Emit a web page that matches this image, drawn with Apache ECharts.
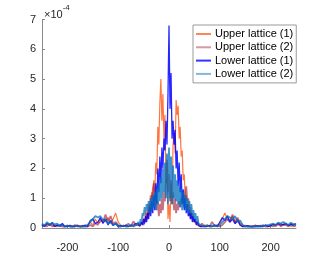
<!DOCTYPE html>
<html><head><meta charset="utf-8">
<script src="https://cdn.jsdelivr.net/npm/echarts@6/dist/echarts.min.js"></script>
<style>html,body{margin:0;padding:0;background:#fff}#c{width:327px;height:256px}</style>
</head><body><div id="c"></div>
<script>
// x positions (shared by all series)
var xs = [
 -250,-245,-240,-235,-230,-225,-220,-215,-210,-205,
 -200,-195,-190,-185,-180,-175,-170,-165,-160,-155,
 -150,-145,-140,-135,-130,-125,-120,-115,-110,-105,
 -100,-95,-90,-85,-80,-75,-70,-65,
 -62,-60,-58,-56,-54,-52,-50,-48,-46,-44,-42,-40,-38,-36,-34,-32,-30,-28,-26,-24,-22,-20,-18,-16,-14,-12,-10,-8,-6,-4,-2,
 0,2,4,6,8,10,12,14,16,18,20,22,24,26,28,30,32,34,36,38,40,42,44,46,48,50,52,54,56,58,60,62,
 65,70,75,80,85,90,95,100,105,110,
 115,120,125,130,135,140,145,150,155,160,
 165,170,175,180,185,190,195,200,205,210,
 215,220,225,230,235,240,245,250
];
// values in units of 1e-4
var upper1 = [
 0.10,0.05,0.15,0.08,0.12,0.05,0.10,0.05,0.12,0.05,
 0.05,0.10,0.05,0.08,0.10,0.05,0.08,0.05,0.12,0.20,
 0.10,0.30,0.15,0.20,0.30,0.20,0.35,0.15,0.30,0.50,
 0.20,0.10,0.05,0.10,0.05,0.10,0.05,0.10,
 0.05,0.10,0.05,0.15,0.10,0.20,0.35,0.20,0.50,0.30,0.60,0.40,0.80,0.50,1.20,0.90,1.60,1.20,2.20,1.80,3.40,2.80,4.20,5.00,3.60,4.50,3.00,3.80,1.50,2.20,0.30,
 0.80,0.20,1.50,1.00,2.80,3.20,2.50,4.30,3.80,4.10,3.00,3.40,2.40,2.60,1.60,1.80,1.00,1.10,0.60,0.80,0.40,0.55,0.30,0.40,0.20,0.30,0.15,0.20,0.10,0.15,0.05,0.10,
 0.05,0.10,0.05,0.08,0.05,0.10,0.05,0.15,0.30,0.50,
 0.30,0.25,0.40,0.20,0.30,0.15,0.10,0.05,0.08,0.05,
 0.05,0.10,0.05,0.08,0.05,0.10,0.05,0.08,0.12,0.05,
 0.10,0.15,0.08,0.12,0.10,0.05,0.15,0.10
];
var upper2 = [
 0.05,0.10,0.05,0.15,0.05,0.08,0.05,0.10,0.05,0.05,
 0.08,0.05,0.05,0.10,0.05,0.05,0.08,0.05,0.05,0.10,
 0.05,0.15,0.10,0.30,0.20,0.45,0.20,0.40,0.15,0.20,
 0.10,0.05,0.08,0.05,0.15,0.05,0.22,0.10,
 0.05,0.10,0.05,0.10,0.05,0.20,0.10,0.30,0.20,0.50,0.30,0.80,0.60,1.10,0.70,1.30,1.50,0.90,1.20,0.60,0.90,0.40,0.80,0.50,1.00,0.60,1.20,0.90,1.60,2.30,1.20,
 1.80,0.90,1.60,0.80,1.20,0.60,1.00,0.50,0.80,0.60,0.90,0.70,1.00,0.80,1.10,0.70,1.20,1.40,0.90,1.00,0.60,0.70,0.40,0.50,0.30,0.30,0.20,0.15,0.20,0.10,0.10,0.05,
 0.15,0.05,0.10,0.05,0.20,0.05,0.10,0.05,0.10,0.20,
 0.30,0.20,0.45,0.15,0.35,0.10,0.05,0.08,0.05,0.05,
 0.05,0.08,0.05,0.05,0.10,0.05,0.05,0.08,0.05,0.10,
 0.15,0.05,0.12,0.10,0.05,0.15,0.05,0.08
];
var lower1 = [
 0.12,0.05,0.15,0.10,0.18,0.05,0.10,0.08,0.15,0.05,
 0.05,0.08,0.05,0.05,0.08,0.05,0.05,0.10,0.05,0.25,
 0.30,0.15,0.20,0.35,0.15,0.30,0.10,0.25,0.08,0.15,
 0.05,0.08,0.05,0.10,0.05,0.08,0.10,0.15,
 0.10,0.15,0.05,0.10,0.20,0.10,0.30,0.15,0.40,0.20,0.50,0.30,0.70,0.40,0.90,0.50,1.10,0.60,1.50,0.80,2.00,1.20,2.40,1.50,2.70,2.00,3.00,2.60,3.60,2.80,4.50,
 6.80,4.00,5.20,3.00,3.60,2.80,3.30,2.00,2.60,1.40,2.20,1.20,1.80,0.80,1.30,0.60,1.00,0.50,0.80,0.40,0.60,0.30,0.50,0.20,0.40,0.20,0.30,0.10,0.20,0.10,0.15,0.05,
 0.10,0.05,0.05,0.08,0.05,0.10,0.05,0.20,0.35,0.25,
 0.40,0.20,0.30,0.15,0.25,0.10,0.05,0.05,0.08,0.05,
 0.05,0.05,0.08,0.05,0.05,0.10,0.05,0.08,0.12,0.10,
 0.15,0.10,0.12,0.15,0.08,0.12,0.10,0.15
];
var lower2 = [
 0.15,0.08,0.20,0.10,0.18,0.12,0.15,0.05,0.10,0.05,
 0.08,0.05,0.05,0.05,0.08,0.05,0.05,0.05,0.10,0.20,
 0.30,0.40,0.35,0.40,0.25,0.30,0.15,0.20,0.10,0.15,
 0.05,0.05,0.08,0.05,0.05,0.10,0.05,0.10,
 0.10,0.20,0.10,0.30,0.20,0.50,0.40,0.70,0.50,0.80,0.60,0.90,0.50,1.00,0.60,1.10,0.70,1.20,0.60,1.30,0.80,1.50,0.90,1.70,1.00,2.00,1.20,2.20,1.00,2.50,0.80,
 2.70,1.00,2.40,0.80,2.10,1.00,1.80,0.90,1.60,0.80,1.40,0.70,1.30,0.60,1.20,0.70,1.10,0.60,1.00,0.50,0.90,0.50,0.80,0.40,0.60,0.30,0.50,0.20,0.40,0.15,0.20,0.10,
 0.10,0.05,0.08,0.05,0.05,0.08,0.05,0.10,0.20,0.30,
 0.40,0.35,0.30,0.40,0.20,0.25,0.10,0.05,0.05,0.05,
 0.05,0.05,0.05,0.08,0.05,0.08,0.10,0.12,0.15,0.10,
 0.18,0.15,0.20,0.15,0.10,0.18,0.12,0.10
];
var names = ['Upper lattice (1)','Upper lattice (2)','Lower lattice (1)','Lower lattice (2)'];
var xTicks = [-200,-100,0,100,200];

function pairs(v){ return xs.map(function(x,i){ return [x, v[i]]; }); }
var colors = ['rgba(255,95,30,0.85)','rgba(162,20,47,0.6)','rgba(0,0,255,0.85)','rgba(0,114,189,0.75)'];
var widths = [1.2,1.8,1.3,1.8];
var legendCols = ['#F8875A','#D49AA8','#3333FF','#7FB8DE'];
var data = [upper1, upper2, lower1, lower2];

var chart = echarts.init(document.getElementById('c'), null, {renderer:'canvas'});
var font = 'Liberation Sans, Arial, Helvetica, sans-serif';
chart.setOption({
  animation:false,
  textStyle:{fontFamily:font},
  grid:{left:42, right:31, top:19.5, bottom:28},
  xAxis:{type:'value', min:-250, max:250,
    axisLine:{show:true, onZero:false, lineStyle:{color:'#8a8a8a', width:1}},
    axisTick:{show:true, inside:true, length:3, customValues:xTicks, lineStyle:{color:'#8a8a8a'}},
    axisLabel:{customValues:xTicks, color:'#262626', fontSize:11, margin:14, fontFamily:font},
    splitLine:{show:false}},
  yAxis:{type:'value', min:0, max:7, interval:1,
    axisLine:{show:true, onZero:false, lineStyle:{color:'#8a8a8a', width:1}},
    axisTick:{show:true, inside:true, length:3, lineStyle:{color:'#8a8a8a'}},
    axisLabel:{color:'#262626', fontSize:11, margin:6, fontFamily:font},
    splitLine:{show:false}},
  legend:{orient:'vertical', left:193, top:25, width:99,
    backgroundColor:'#fff', borderColor:'#9a9a9a', borderWidth:1,
    padding:[3,3,3,3], itemGap:1.3, itemWidth:15, itemHeight:2,
    textStyle:{fontSize:11, color:'#000', fontFamily:font, lineHeight:12, padding:[0,0,0,-1]},
    data: names.map(function(n,i){ return {name:n, icon:'rect', itemStyle:{color:legendCols[i]}}; })
  },
  graphic:[{type:'text', left:44, top:4, style:{
    text:'{a|×10}{b|-4}', rich:{a:{fontSize:11, fill:'#262626', fontFamily:font, padding:[5,0,0,0]}, b:{fontSize:8, fill:'#262626', fontFamily:font, verticalAlign:'top', padding:[0,0,0,0]}}}}],
  series: names.map(function(n,i){ return {
    name:n, type:'line', data:pairs(data[i]), showSymbol:false, symbol:'none',
    lineStyle:{color:colors[i], width:widths[i]}, itemStyle:{color:colors[i]}, z:2+i
  }; })
});
</script></body></html>
